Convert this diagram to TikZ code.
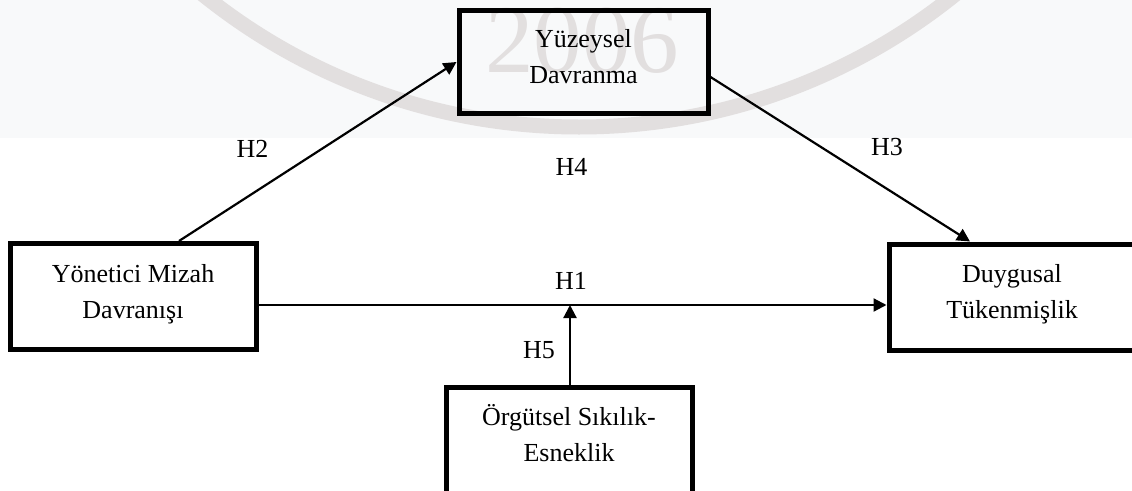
\documentclass[tikz,border=0pt]{standalone}
\usepackage{fontspec}
\setmainfont{Liberation Serif}
\usetikzlibrary{arrows.meta}
\definecolor{wmgray}{RGB}{226,223,223}
\definecolor{paper}{RGB}{248,249,250}
\begin{document}
\begin{tikzpicture}[x=1pt,y=-1pt,
  box/.style={draw, line width=5pt, minimum width=246pt, minimum height=106pt,
    inner sep=0pt, align=center, font=\fontsize{26}{36}\selectfont,
    text height=54pt, text depth=11pt},
  link/.style={line width=2.2pt, -{Triangle[length=13pt,width=13pt]}},
  hlabel/.style={font=\fontsize{26}{30}\selectfont, inner sep=0pt}]
\clip (0,0) rectangle (1132,490);
% faint seal behind the model
\fill[paper] (0,0) rectangle (1132,138);
\draw[wmgray, line width=15pt] (579,-473) circle[radius=600];
\node[wmgray, font=\fontsize{97}{97}\selectfont, anchor=base, inner sep=0pt] (wm) at (582,72) {2006};

% variables
\node[box, minimum width=249pt, minimum height=102.5pt] (tb) at (583.5,62) {Yüzeysel\\Davranma};
\node[box] (lb) at (133,296.5) {Yönetici Mizah\\Davranışı};
\node[box] (rb) at (1012,297) {Duygusal\\Tükenmişlik};
\node[box] (bb) at (569,440) {Örgütsel Sıkılık-\\Esneklik};

% hypothesised paths
\coordinate (j) at (570,305);
\draw[link] (lb.east |- j) -- (rb.west |- j);
\draw[link] (j |- bb.north) -- (j);
\draw[link] ([xshift=46pt]lb.north) -- (tb.west);
\draw[link] ([yshift=-15pt]tb.east) -- ([xshift=-42pt]rb.north);

% hypothesis labels
\node[hlabel] (h1) at (571,280.5) {H1};
\node[hlabel] (h2) at (252.5,148.5) {H2};
\node[hlabel] (h3) at (887,147.5) {H3};
\node[hlabel] (h4) at (571.5,166.5) {H4};
\node[hlabel] (h5) at (539,350) {H5};
\end{tikzpicture}
\end{document}
